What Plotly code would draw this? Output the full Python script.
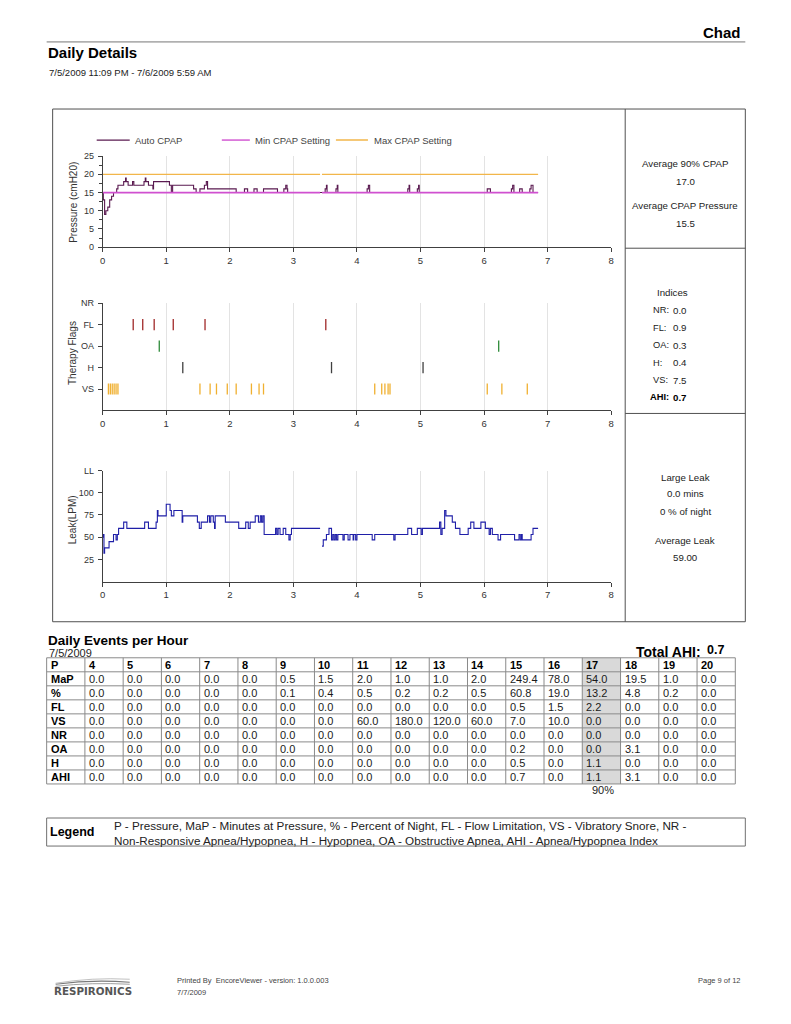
import plotly.graph_objects as go

# Page is 791x1024; the browser adds an 8px body margin, so the figure is drawn
# 16px smaller. A small empirical correction maps reference page pixels to figure pixels.
PAGE_W, PAGE_H = 791, 1024
OFF = 8
FW, FH = PAGE_W - 2 * OFF, PAGE_H - 2 * OFF
AX, BX = 0.9913, 3.46
AY, BY = 0.9887, 6.2
FONT = "Liberation Sans, Arial, sans-serif"

# ---------------- data ----------------
# Pressure chart (hours, cmH2O) - step data
auto_t = [0.00, 0.01, 0.03, 0.05, 0.08, 0.11, 0.14, 0.17, 0.22, 0.24, 0.33, 0.36, 0.37, 0.40, 0.47, 0.49,
          0.65, 0.67, 0.68, 0.72, 0.79, 0.80, 1.05, 1.08, 1.10, 1.43, 1.47, 1.53, 1.60, 1.63, 1.65, 2.10,
          2.23, 2.28, 2.38, 2.43, 2.53, 2.75, 2.85, 2.88, 2.90, 2.91, 3.50, 3.52, 3.53, 3.67, 3.69, 3.70,
          4.16, 4.18, 4.20, 4.80, 4.82, 4.83, 4.95, 4.97, 4.98, 6.05, 6.10, 6.43, 6.45, 6.47, 6.56, 6.60,
          6.72, 6.74, 6.77, 6.85]
auto_p = [15, 13, 9, 10, 11, 13, 14, 15, 16, 17, 18, 19, 18, 17, 18, 17,
          18, 19, 18, 17, 16, 18, 17, 15, 17, 16, 15, 16, 17, 18, 16, 15,
          16, 15, 16, 15, 16, 15, 16, 17, 16, 15, 16, 17, 15, 16, 17, 15,
          16, 17, 15, 16, 17, 15, 16, 17, 15, 16, 15, 16, 17, 15, 16, 15,
          16, 17, 15, 15]
setting_t = [0.0, 3.42, None, 3.45, 6.85]
min_setting = [15, 15, None, 15, 15]
max_setting = [20, 20, None, 20, 20]

# Therapy flags (hours)
flag_rows = ["VS", "H", "OA", "FL", "NR"]
fl_events = [0.48, 0.63, 0.81, 1.11, 1.61, 3.51]
oa_events = [0.89, 6.23]
h_events = [1.26, 3.60, 5.04]
vs_events = [0.09, 0.12, 0.15, 0.18, 0.21, 0.24, 1.53, 1.69, 1.79, 1.96, 2.10, 2.34, 2.46, 2.53,
             4.28, 4.39, 4.44, 4.49, 4.52, 6.05, 6.28, 6.68]
nr_events = []

# Leak chart (hours, LPM) - step data
leak_t = [0.00, 0.01, 0.02, 0.03, 0.10, 0.17, 0.21, 0.23, 0.25, 0.33, 0.38, 0.66, 0.72, 0.84, 0.86, 0.87,
          1.00, 1.06, 1.08, 1.12, 1.25, 1.26, 1.49, 1.52, 1.55, 1.65, 1.68, 1.70, 1.74, 1.76, 1.77, 1.93,
          2.14, 2.25, 2.29, 2.32, 2.40, 2.45, 2.48, 2.50, 2.52, 2.54, 2.72, 2.74, 2.76, 2.79, 2.84, 2.88,
          2.93, 2.95, 2.97, 3.42, None,
          3.45, 3.47, 3.52, 3.56, 3.60, 3.62, 3.64, 3.66, 3.68, 3.70, 3.78, 3.80, 3.86, 3.89, 3.94, 3.95,
          3.98, 4.00, 4.24, 4.28, 4.58, 4.60, 4.80, 4.86, 4.95, 5.01, 5.03, 5.30, 5.32, 5.34, 5.38, 5.40,
          5.50, 5.55, 5.62, 5.75, 5.79, 5.84, 5.95, 6.02, 6.08, 6.10, 6.13, 6.22, 6.26, 6.48, 6.55, 6.57,
          6.59, 6.60, 6.74, 6.77, 6.85]
leak_v = [50, 53, 32, 38, 45, 53, 47, 53, 60, 67, 60, 67, 60, 67, 80, 74,
          87, 80, 74, 80, 67, 74, 67, 60, 67, 74, 67, 74, 67, 60, 74, 67,
          60, 67, 60, 67, 74, 67, 74, 67, 74, 53, 60, 53, 60, 53, 60, 53,
          47, 53, 60, 60, None,
          40, 47, 53, 60, 47, 53, 47, 53, 47, 53, 47, 53, 47, 53, 47, 53,
          47, 53, 47, 53, 47, 53, 60, 53, 60, 53, 60, 67, 53, 60, 80, 74,
          67, 60, 53, 60, 67, 60, 67, 60, 53, 60, 53, 47, 53, 47, 53, 47,
          53, 47, 53, 60, 60]

# Side panel values
avg90_cpap = "17.0"
avg_cpap = "15.5"
indices_labels = ["NR:", "FL:", "OA:", "H:", "VS:"]
indices_values = ["0.0", "0.9", "0.3", "0.4", "7.5"]
ahi_value = "0.7"
large_leak_mins = "0.0"
large_leak_pct = "0"
average_leak = "59.00"

# Daily events table
pressures = [4, 5, 6, 7, 8, 9, 10, 11, 12, 13, 14, 15, 16, 17, 18, 19, 20]
row_names = ["MaP", "%", "FL", "VS", "NR", "OA", "H", "AHI"]
map_vals = [0.0, 0.0, 0.0, 0.0, 0.0, 0.5, 1.5, 2.0, 1.0, 1.0, 2.0, 249.4, 78.0, 54.0, 19.5, 1.0, 0.0]
pct_vals = [0.0, 0.0, 0.0, 0.0, 0.0, 0.1, 0.4, 0.5, 0.2, 0.2, 0.5, 60.8, 19.0, 13.2, 4.8, 0.2, 0.0]
fl_vals = [0.0, 0.0, 0.0, 0.0, 0.0, 0.0, 0.0, 0.0, 0.0, 0.0, 0.0, 0.5, 1.5, 2.2, 0.0, 0.0, 0.0]
vs_vals = [0.0, 0.0, 0.0, 0.0, 0.0, 0.0, 0.0, 60.0, 180.0, 120.0, 60.0, 7.0, 10.0, 0.0, 0.0, 0.0, 0.0]
nr_vals = [0.0] * 17
oa_vals = [0.0, 0.0, 0.0, 0.0, 0.0, 0.0, 0.0, 0.0, 0.0, 0.0, 0.0, 0.2, 0.0, 0.0, 3.1, 0.0, 0.0]
h_vals = [0.0, 0.0, 0.0, 0.0, 0.0, 0.0, 0.0, 0.0, 0.0, 0.0, 0.0, 0.5, 0.0, 1.1, 0.0, 0.0, 0.0]
ahi_vals = [0.0, 0.0, 0.0, 0.0, 0.0, 0.0, 0.0, 0.0, 0.0, 0.0, 0.0, 0.7, 0.0, 1.1, 3.1, 0.0, 0.0]
p90_pressure = 17
total_ahi = "0.7"

x_ticks = [0, 1, 2, 3, 4, 5, 6, 7, 8]

# ---------------- helpers ----------------
def px(x):
    return ((x - BX) / AX - OFF) / FW

def py(y):
    return 1 - ((y - BY) / AY - OFF) / FH

fig = go.Figure()

AXC = "#404040"
GRID = "#e3e3e3"
TICKF = dict(family=FONT, size=9, color="#333333")

def xaxis_cfg(anchor):
    return dict(domain=[px(103), px(611)], range=[0, 8], tickvals=x_ticks, showgrid=True,
                gridcolor=GRID, gridwidth=1, zeroline=False, showline=True, linecolor=AXC,
                linewidth=1, ticks="outside", ticklen=4, tickcolor=AXC,
                tickfont=dict(family=FONT, size=9.5, color="#333333"),
                anchor=anchor, fixedrange=True)

def yaxis_cfg(anchor, dom, rng, **kw):
    d = dict(domain=dom, range=rng, showgrid=False, zeroline=False, showline=True,
             linecolor=AXC, linewidth=1, ticks="outside", ticklen=4, tickcolor=AXC,
             tickfont=TICKF, anchor=anchor, fixedrange=True, ticklabelstandoff=2)
    d.update(kw)
    return d

# Pressure chart
fig.add_trace(go.Scatter(x=setting_t, y=max_setting, mode="lines", line=dict(color="#f2b64a", width=1.2),
                         xaxis="x", yaxis="y", showlegend=False, connectgaps=False))
fig.add_trace(go.Scatter(x=auto_t, y=auto_p, mode="lines", line=dict(color="#5a1a50", width=1.1),
                         line_shape="hv", xaxis="x", yaxis="y", showlegend=False))
fig.add_trace(go.Scatter(x=setting_t, y=min_setting, mode="lines", line=dict(color="#d050d0", width=1.8),
                         xaxis="x", yaxis="y", showlegend=False, connectgaps=False))

# Flags chart
flag_sets = [(vs_events, "VS", "#f0b030"), (h_events, "H", "#404040"), (oa_events, "OA", "#2e8b3a"),
             (fl_events, "FL", "#a02828"), (nr_events, "NR", "#404040")]
for ev, name, col in flag_sets:
    if not ev:
        continue
    fig.add_trace(go.Scatter(x=ev, y=[flag_rows.index(name) + 1] * len(ev), mode="markers",
                             marker=dict(symbol="line-ns", size=8, line=dict(color=col, width=1.3)),
                             xaxis="x2", yaxis="y2", showlegend=False))

# Leak chart
fig.add_trace(go.Scatter(x=leak_t, y=leak_v, mode="lines", line=dict(color="#1f1fa8", width=1.1),
                         line_shape="hv", xaxis="x3", yaxis="y3", showlegend=False, connectgaps=False))

fig.update_layout(
    xaxis=xaxis_cfg("y"),
    yaxis=yaxis_cfg("x", [py(248), py(157)], [0, 25], tickvals=[0, 5, 10, 15, 20, 25],
                    minor=dict(dtick=2.5, ticks="outside", ticklen=3, tickcolor=AXC)),
    xaxis2=xaxis_cfg("y2"),
    yaxis2=yaxis_cfg("x2", [py(411), py(304)], [0, 5], tickvals=[1, 2, 3, 4, 5], ticktext=flag_rows),
    xaxis3=xaxis_cfg("y3"),
    yaxis3=yaxis_cfg("x3", [py(582), py(471)], [0, 125], tickvals=[25, 50, 75, 100, 125],
                     ticktext=["25", "50", "75", "100", "LL"]),
)

# ---------------- shapes ----------------
shapes = []
LC = "#505050"
def line(x0, y0, x1, y1, color=LC, width=1):
    shapes.append(dict(type="line", xref="paper", yref="paper", x0=px(x0), y0=py(y0), x1=px(x1), y1=py(y1),
                       line=dict(color=color, width=width)))

def rect(x0, y0, x1, y1, fill, lcolor=None, width=0):
    shapes.append(dict(type="rect", xref="paper", yref="paper", x0=px(x0), y0=py(y1), x1=px(x1), y1=py(y0),
                       fillcolor=fill, line=dict(color=lcolor or fill, width=width), layer="below"))

line(47, 43, 745, 43, "#777777")
# outer box of chart panel
line(53, 110, 745, 110)
line(745, 110, 745, 622)
line(53, 622, 745, 622)
line(53, 110, 53, 622)
line(625, 110, 625, 622)
line(625, 249, 745, 249)
line(625, 414, 745, 414)
# legend box
shapes.append(dict(type="rect", xref="paper", yref="paper", x0=px(47), y0=py(846), x1=px(745), y1=py(818),
                   line=dict(color="#707070", width=1)))
# chart legend lines
line(97, 141, 130, 141, "#5a1a50", 1.2)
line(222, 141, 250, 141, "#d050d0", 1.4)
line(336, 141, 368, 141, "#f2b64a", 1.4)
# Respironics swoosh
for (yy0, yy1, yy2, col, wdt) in [(984, 979, 982, "#7a7a7a", 1.2), (986, 982, 984, "#a0a0a0", 1.0),
                                  (983, 977, 979, "#b0b0b0", 0.8)]:
    shapes.append(dict(type="path", xref="paper", yref="paper",
                       path=f"M {px(56)},{py(yy0)} Q {px(92)},{py(yy1)} {px(130)},{py(yy2)}",
                       line=dict(color=col, width=wdt)))

# ---------------- annotations ----------------
ann = []
def text(x, y, s, size=10, xanchor="left", bold=False, color="#222222", family=FONT):
    ann.append(dict(xref="paper", yref="paper", x=px(x), y=py(y), text=f"<b>{s}</b>" if bold else s,
                    showarrow=False, xanchor=xanchor, yanchor="middle",
                    font=dict(family=family, size=size, color=color)))

# ---------------- table (drawn cell by cell from the lists) ----------------
T_LEFT, T_RIGHT, T_TOP, ROW_H = 47, 735, 658, 14
n_cols = len(pressures) + 1
col_w = (T_RIGHT - T_LEFT) / n_cols
data_rows = [map_vals, pct_vals, fl_vals, vs_vals, nr_vals, oa_vals, h_vals, ahi_vals]
n_rows = len(data_rows) + 1
hi_col = 1 + pressures.index(p90_pressure)
rect(T_LEFT + hi_col * col_w, T_TOP, T_LEFT + (hi_col + 1) * col_w, T_TOP + n_rows * ROW_H, "#d9d9d9")
for k in range(n_rows + 1):
    line(T_LEFT, T_TOP + k * ROW_H, T_RIGHT, T_TOP + k * ROW_H, "#8a8a8a")
for j in range(n_cols + 1):
    line(T_LEFT + j * col_w, T_TOP, T_LEFT + j * col_w, T_TOP + n_rows * ROW_H, "#8a8a8a")
header_vals = ["P"] + [str(p) for p in pressures]
for j, hv in enumerate(header_vals):
    text(T_LEFT + j * col_w + 2, T_TOP + ROW_H / 2 + 0.5, hv, 11, bold=True, color="#000000")
for i, (name, vals) in enumerate(zip(row_names, data_rows)):
    yc = T_TOP + (i + 1) * ROW_H + ROW_H / 2 + 0.5
    text(T_LEFT + 2, yc, name, 11, bold=True, color="#000000")
    for j, v in enumerate(vals):
        text(T_LEFT + (j + 1) * col_w + 2, yc, f"{v:.1f}", 11, color="#1a1a1a")
text(T_LEFT + (hi_col + 0.5) * col_w + 2, 790, "90%", 11, "center")

text(743, 34, "Chad", 15, "right", True, "#000000")
text(46, 54, "Daily Details", 15, "left", True, "#000000")
text(47, 74, "7/5/2009 11:09 PM - 7/6/2009 5:59 AM", 9.5)

text(133, 141, "Auto CPAP", 9.5, color="#444444")
text(253, 141, "Min CPAP Setting", 9.5, color="#444444")
text(372, 141, "Max CPAP Setting", 9.5, color="#444444")

for (x, y, s) in [(73, 203, "Pressure (cmH20)"), (73, 354, "Therapy Flags"), (73, 520, "Leak(LPM)")]:
    ann.append(dict(xref="paper", yref="paper", x=px(x), y=py(y), text=s, textangle=-90, showarrow=False,
                    xanchor="center", yanchor="middle", font=dict(family=FONT, size=10, color="#333333")))

# side panel
PS = 9.7
text(685, 164, "Average 90% CPAP", PS, "center")
text(685, 182, avg90_cpap, PS, "center")
text(685, 206, "Average CPAP Pressure", PS, "center")
text(685, 224, avg_cpap, PS, "center")
text(672, 293, "Indices", PS, "center")
for i, (l, v) in enumerate(zip(indices_labels, indices_values)):
    yy = 311 + i * 17.5
    text(651, yy, l, 9.3)
    text(671, yy, v, PS)
text(648, 398, "AHI:", 9.3, bold=True, color="#000000")
text(671, 398, ahi_value, PS, bold=True, color="#000000")
text(685, 478, "Large Leak", PS, "center")
text(685, 494, f"{large_leak_mins} mins", PS, "center")
text(685, 512, f"{large_leak_pct} % of night", PS, "center")
text(685, 541, "Average Leak", PS, "center")
text(685, 558, average_leak, PS, "center")

# table titles
text(46, 641, "Daily Events per Hour", 13.5, bold=True, color="#000000")
text(47, 653, "7/5/2009", 11, color="#222222")
text(703, 652, "Total AHI:", 14, "right", True, "#000000")
text(705, 650, f"<b>{total_ahi}</b>", 12.5, color="#000000")

# legend
text(48, 832, "Legend", 12.5, bold=True, color="#000000")
text(112, 833, "P - Pressure, MaP - Minutes at Pressure, % - Percent of Night, FL - Flow Limitation, VS - Vibratory Snore, NR -"
     "<br>Non-Responsive Apnea/Hypopnea, H - Hypopnea, OA - Obstructive Apnea, AHI - Apnea/Hypopnea Index", 11.7)
ann[-1]["align"] = "left"

# footer
text(52, 991, "RESPIRONICS", 10.3, bold=True, color="#555555", family="DejaVu Sans, sans-serif")
text(175, 980, "Printed By  EncoreViewer - version: 1.0.0.003", 7.5, color="#444444")
text(175, 992, "7/7/2009", 7.5, color="#444444")
text(743, 980, "Page 9 of 12", 7.5, "right", color="#444444")

fig.update_layout(
    width=FW, height=FH, margin=dict(l=0, r=0, t=0, b=0, pad=0),
    paper_bgcolor="white", plot_bgcolor="white", showlegend=False,
    shapes=shapes, annotations=ann, font=dict(family=FONT),
)

fig.write_html("out.html")
